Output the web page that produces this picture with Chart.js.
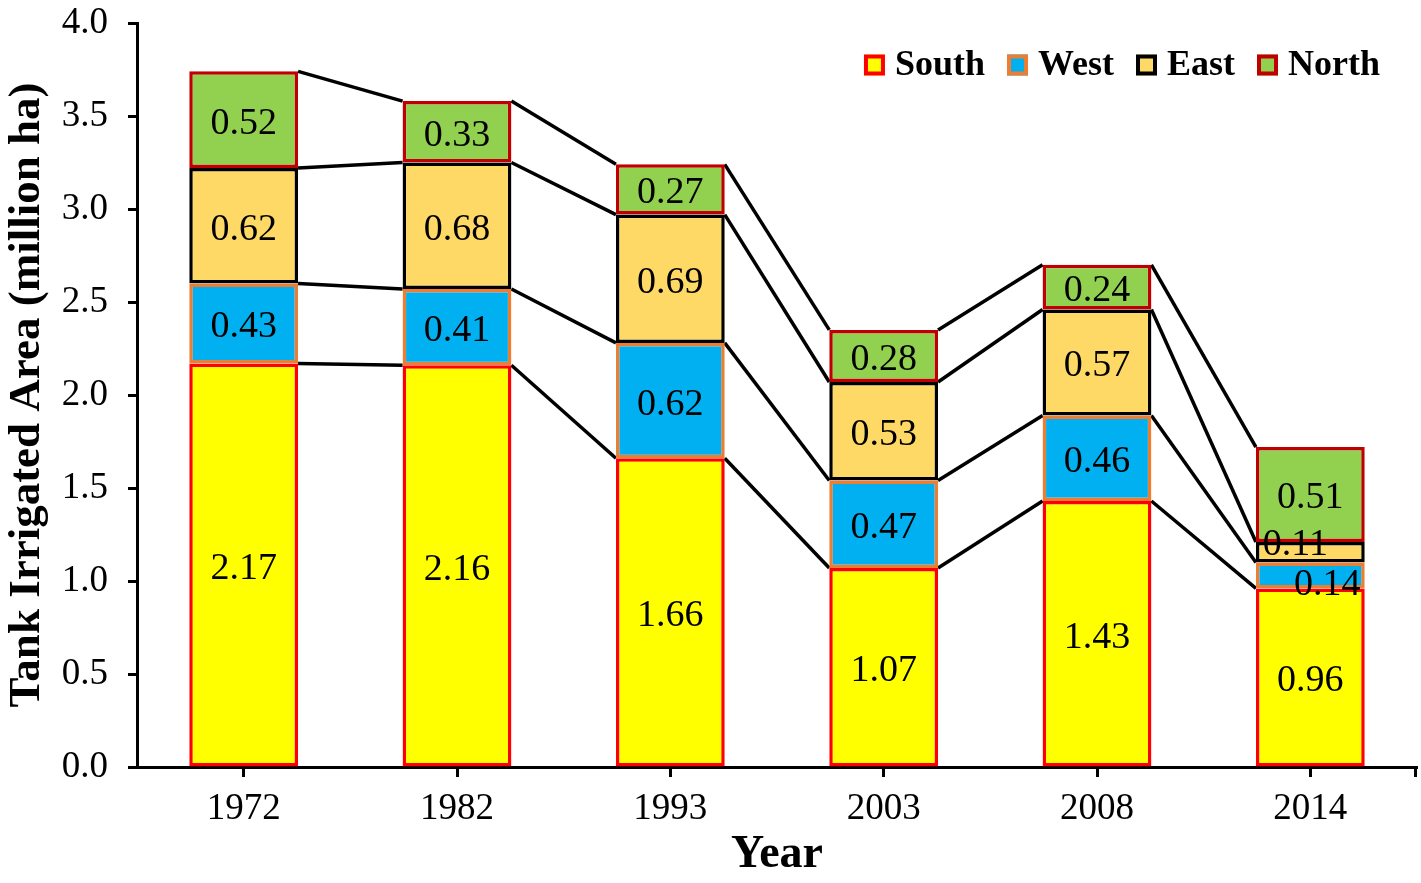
<!DOCTYPE html>
<html>
<head>
<meta charset="utf-8">
<script src="https://cdn.jsdelivr.net/npm/chart.js@4.4.1/dist/chart.umd.min.js"></script>
<style>
  html, body { margin: 0; padding: 0; background: #fff; }
  #wrap { width: 1421px; height: 883px; }
</style>
</head>
<body>
<div id="wrap"><canvas id="c" width="1421" height="883"></canvas></div>
<script>
const categories = ['1972', '1982', '1993', '2003', '2008', '2014'];
const south = [2.17, 2.16, 1.66, 1.07, 1.43, 0.96];
const west  = [0.43, 0.41, 0.62, 0.47, 0.46, 0.14];
const east  = [0.62, 0.68, 0.69, 0.53, 0.57, 0.11];
const north = [0.52, 0.33, 0.27, 0.28, 0.24, 0.51];
const seriesNames = ['South', 'West', 'East', 'North'];
const yMin = 0, yMax = 4.0, yMinorStep = 0.25, yLabelStep = 0.5;

const SERIF = "'Liberation Serif', 'Times New Roman', serif";

const fills   = ['#FFFF00', '#00B0F0', '#FFD966', '#92D050'];
const borders = ['#FF0000', '#ED7D31', '#000000', '#C00000'];

// Excel-like series lines connecting stacked segment tops
const seriesLines = {
  id: 'seriesLines',
  beforeDatasetsDraw(chart) {
    const ctx = chart.ctx;
    ctx.save();
    ctx.strokeStyle = '#000';
    ctx.lineWidth = 3.5;
    chart.data.datasets.forEach((ds, di) => {
      const meta = chart.getDatasetMeta(di);
      for (let i = 0; i < meta.data.length - 1; i++) {
        const a = meta.data[i], b = meta.data[i + 1];
        ctx.beginPath();
        ctx.moveTo(a.x + a.width / 2, a.y);
        ctx.lineTo(b.x - b.width / 2, b.y);
        ctx.stroke();
      }
    });
    ctx.restore();
  }
};

// value labels centred in each segment (with Excel-like nudges where it overlapped)
const nudges = { '2-5': [-15, -11], '1-5': [17, 6] };
const valueLabels = {
  id: 'valueLabels',
  afterDatasetsDraw(chart) {
    const ctx = chart.ctx;
    ctx.save();
    ctx.font = "38px " + SERIF;
    ctx.fillStyle = '#000';
    ctx.textAlign = 'center';
    ctx.textBaseline = 'middle';
    chart.data.datasets.forEach((ds, di) => {
      const meta = chart.getDatasetMeta(di);
      meta.data.forEach((bar, i) => {
        const cy = (bar.y + bar.base) / 2 + 4;
        const n = nudges[di + '-' + i] || [0, 0];
        ctx.fillText(ds.data[i].toFixed(2), bar.x + n[0], cy + n[1]);
      });
    });
    ctx.restore();
  }
};

// legend drawn inside the plot area, top right
const insideLegend = {
  id: 'insideLegend',
  afterDraw(chart) {
    const ctx = chart.ctx;
    const area = chart.chartArea;
    ctx.save();
    ctx.font = "bold 36px " + SERIF;
    ctx.textBaseline = 'middle';
    const box = 21, gapBoxText = 10, gapItems = 22;
    const items = chart.data.datasets.map(ds => ({
      label: ds.label, fill: ds.backgroundColor, border: ds.borderColor,
      w: ctx.measureText(ds.label).width
    }));
    let total = 0;
    items.forEach((it, k) => { total += box + gapBoxText + it.w + (k < items.length - 1 ? gapItems : 0); });
    let x = area.right - 37 - total;
    const cy = area.top + 42;
    items.forEach(it => {
      ctx.fillStyle = it.fill;
      ctx.fillRect(x, cy - box / 2, box, box);
      ctx.strokeStyle = it.border;
      ctx.lineWidth = 4;
      ctx.strokeRect(x + 2, cy - box / 2 + 2, box - 4, box - 4);
      ctx.fillStyle = '#000';
      ctx.fillText(it.label, x + box + gapBoxText, cy + 1);
      x += box + gapBoxText + it.w + gapItems;
    });
    ctx.restore();
  }
};

// closing tick at the right end of the category axis
const endTick = {
  id: 'endTick',
  afterDraw(chart) {
    const s = chart.scales.x;
    const ctx = chart.ctx;
    ctx.save();
    ctx.strokeStyle = '#000';
    ctx.lineWidth = 3;
    ctx.beginPath();
    ctx.moveTo(s.right - 1.5, s.top);
    ctx.lineTo(s.right - 1.5, s.top + 10);
    ctx.stroke();
    ctx.restore();
  }
};

const dataSeries = [south, west, east, north];

new Chart(document.getElementById('c'), {
  type: 'bar',
  data: {
    labels: categories,
    datasets: dataSeries.map((d, k) => ({
      label: seriesNames[k],
      data: d,
      backgroundColor: fills[k],
      borderColor: borders[k],
      borderWidth: 3.5,
      borderSkipped: false,
      categoryPercentage: 1.0,
      barPercentage: 0.51
    }))
  },
  options: {
    responsive: false,
    animation: false,
    devicePixelRatio: 1,
    layout: { padding: { top: 23, right: 4, left: 0, bottom: 0 } },
    plugins: { legend: { display: false }, tooltip: { enabled: false } },
    scales: {
      x: {
        stacked: true,
        grid: { display: true, drawOnChartArea: false, offset: false, tickLength: 10, tickWidth: 3, tickColor: '#000' },
        border: { display: true, color: '#000', width: 3 },
        ticks: { color: '#000', font: { family: SERIF, size: 37 }, padding: 10, maxRotation: 0 },
        title: { display: true, text: 'Year', color: '#000', font: { family: SERIF, size: 46, weight: 'bold' }, padding: { top: 0, bottom: 0 } },
        afterFit: s => { s.height = 116; s.paddingLeft = 0; s.paddingRight = 0; }
      },
      y: {
        stacked: true,
        min: yMin, max: yMax,
        ticks: {
          stepSize: yMinorStep,
          color: '#000',
          font: { family: SERIF, size: 37 },
          padding: 20,
          callback: v => (Math.abs(v / yLabelStep - Math.round(v / yLabelStep)) < 1e-6 ? v.toFixed(1) : '')
        },
        grid: { display: true, drawOnChartArea: false, tickLength: 9, tickWidth: 3, tickColor: '#000' },
        border: { display: true, color: '#000', width: 3 },
        title: { display: true, text: 'Tank Irrigated Area (million ha)', color: '#000', font: { family: SERIF, size: 45, weight: 'bold' }, padding: { top: 0, bottom: 0 } },
        afterFit: s => { s.width = 137; s.paddingTop = 0; s.paddingBottom = 0; }
      }
    }
  },
  plugins: [seriesLines, valueLabels, insideLegend, endTick]
});
</script>
</body>
</html>
